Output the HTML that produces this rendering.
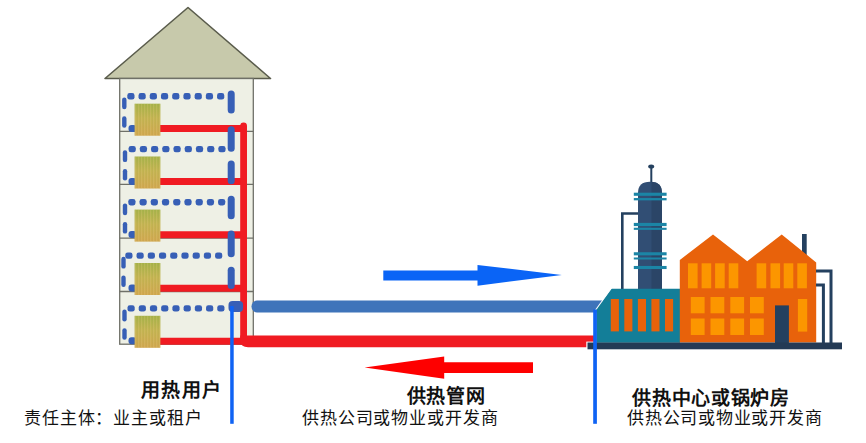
<!DOCTYPE html>
<html lang="zh-CN"><head><meta charset="utf-8"><style>
html,body{margin:0;padding:0;background:#fff;}
body{width:866px;height:443px;position:relative;overflow:hidden;font-family:"Liberation Sans",sans-serif;}
svg{position:absolute;left:0;top:0;}
.t{position:absolute;white-space:nowrap;color:#111;line-height:1;text-spacing-trim:space-all;}
.b{font-weight:bold;}
</style></head><body>
<svg width="866" height="443" viewBox="0 0 866 443">

<defs>
 <linearGradient id="radg" x1="0" y1="0" x2="0" y2="1">
  <stop offset="0" stop-color="#a6b44a"/>
  <stop offset="0.45" stop-color="#c4b552"/>
  <stop offset="1" stop-color="#d2a850"/>
 </linearGradient>
 <pattern id="stripes" width="3" height="10" patternUnits="userSpaceOnUse">
  <rect x="0" y="0" width="1" height="10" fill="#e0c47a" opacity="0.25"/>
  <rect x="2" y="0" width="0.8" height="10" fill="#9a8a40" opacity="0.12"/>
 </pattern>
</defs>
<polygon points="105,78.5 188,7.5 270.5,78.5" fill="#c7c9ab" stroke="#5a5c4c" stroke-width="1.6" stroke-linejoin="round"/>
<rect x="119.7" y="78.5" width="133.6" height="265.7" fill="#eef0e5" stroke="#6f7068" stroke-width="1.3"/>
<line x1="119.7" y1="131.3" x2="253.3" y2="131.3" stroke="#6f7068" stroke-width="1.3"/>
<line x1="119.7" y1="184.3" x2="253.3" y2="184.3" stroke="#6f7068" stroke-width="1.3"/>
<line x1="119.7" y1="238.2" x2="253.3" y2="238.2" stroke="#6f7068" stroke-width="1.3"/>
<line x1="119.7" y1="291.5" x2="253.3" y2="291.5" stroke="#6f7068" stroke-width="1.3"/>
<rect x="127.30" y="93.10" width="7.2" height="6.4" rx="2.3" fill="#375fb6"/>
<rect x="138.52" y="93.10" width="7.2" height="6.4" rx="2.3" fill="#375fb6"/>
<rect x="149.74" y="93.10" width="7.2" height="6.4" rx="2.3" fill="#375fb6"/>
<rect x="160.96" y="93.10" width="7.2" height="6.4" rx="2.3" fill="#375fb6"/>
<rect x="172.18" y="93.10" width="7.2" height="6.4" rx="2.3" fill="#375fb6"/>
<rect x="183.40" y="93.10" width="7.2" height="6.4" rx="2.3" fill="#375fb6"/>
<rect x="194.62" y="93.10" width="7.2" height="6.4" rx="2.3" fill="#375fb6"/>
<rect x="205.84" y="93.10" width="7.2" height="6.4" rx="2.3" fill="#375fb6"/>
<rect x="217.06" y="93.10" width="7.2" height="6.4" rx="2.3" fill="#375fb6"/>
<line x1="124.3" y1="99.70" x2="124.3" y2="107.10" stroke="#375fb6" stroke-width="4.4" stroke-linecap="round"/>
<line x1="124.3" y1="118.40" x2="124.3" y2="125.50" stroke="#375fb6" stroke-width="4.4" stroke-linecap="round"/>
<rect x="128.5" y="125.1" width="8" height="7" rx="3" fill="#375fb6"/>
<line x1="158" y1="128.45" x2="244" y2="128.45" stroke="#f01b22" stroke-width="7.1"/>
<rect x="134.6" y="103.7" width="25.8" height="32" fill="url(#radg)"/>
<rect x="134.6" y="103.7" width="25.8" height="32" fill="url(#stripes)"/>
<rect x="128.60" y="145.90" width="7.2" height="6.4" rx="2.3" fill="#375fb6"/>
<rect x="139.82" y="145.90" width="7.2" height="6.4" rx="2.3" fill="#375fb6"/>
<rect x="151.04" y="145.90" width="7.2" height="6.4" rx="2.3" fill="#375fb6"/>
<rect x="162.26" y="145.90" width="7.2" height="6.4" rx="2.3" fill="#375fb6"/>
<rect x="173.48" y="145.90" width="7.2" height="6.4" rx="2.3" fill="#375fb6"/>
<rect x="184.70" y="145.90" width="7.2" height="6.4" rx="2.3" fill="#375fb6"/>
<rect x="195.92" y="145.90" width="7.2" height="6.4" rx="2.3" fill="#375fb6"/>
<rect x="207.14" y="145.90" width="7.2" height="6.4" rx="2.3" fill="#375fb6"/>
<rect x="218.36" y="145.90" width="7.2" height="6.4" rx="2.3" fill="#375fb6"/>
<line x1="125.0" y1="152.50" x2="125.0" y2="159.90" stroke="#375fb6" stroke-width="4.4" stroke-linecap="round"/>
<line x1="125.0" y1="171.20" x2="125.0" y2="178.30" stroke="#375fb6" stroke-width="4.4" stroke-linecap="round"/>
<rect x="128.5" y="177.9" width="8" height="7" rx="3" fill="#375fb6"/>
<line x1="158" y1="181.44" x2="244" y2="181.44" stroke="#f01b22" stroke-width="7.1"/>
<rect x="134.6" y="156.5" width="25.8" height="32" fill="url(#radg)"/>
<rect x="134.6" y="156.5" width="25.8" height="32" fill="url(#stripes)"/>
<rect x="128.30" y="199.00" width="7.2" height="6.4" rx="2.3" fill="#375fb6"/>
<rect x="139.52" y="199.00" width="7.2" height="6.4" rx="2.3" fill="#375fb6"/>
<rect x="150.74" y="199.00" width="7.2" height="6.4" rx="2.3" fill="#375fb6"/>
<rect x="161.96" y="199.00" width="7.2" height="6.4" rx="2.3" fill="#375fb6"/>
<rect x="173.18" y="199.00" width="7.2" height="6.4" rx="2.3" fill="#375fb6"/>
<rect x="184.40" y="199.00" width="7.2" height="6.4" rx="2.3" fill="#375fb6"/>
<rect x="195.62" y="199.00" width="7.2" height="6.4" rx="2.3" fill="#375fb6"/>
<rect x="206.84" y="199.00" width="7.2" height="6.4" rx="2.3" fill="#375fb6"/>
<rect x="218.06" y="199.00" width="7.2" height="6.4" rx="2.3" fill="#375fb6"/>
<line x1="125.0" y1="205.60" x2="125.0" y2="213.00" stroke="#375fb6" stroke-width="4.4" stroke-linecap="round"/>
<line x1="125.0" y1="224.30" x2="125.0" y2="231.40" stroke="#375fb6" stroke-width="4.4" stroke-linecap="round"/>
<rect x="128.5" y="231.0" width="8" height="7" rx="3" fill="#375fb6"/>
<line x1="158" y1="234.73" x2="244" y2="234.73" stroke="#f01b22" stroke-width="7.1"/>
<rect x="134.6" y="209.6" width="25.8" height="32" fill="url(#radg)"/>
<rect x="134.6" y="209.6" width="25.8" height="32" fill="url(#stripes)"/>
<rect x="125.30" y="252.40" width="7.2" height="6.4" rx="2.3" fill="#375fb6"/>
<rect x="136.52" y="252.40" width="7.2" height="6.4" rx="2.3" fill="#375fb6"/>
<rect x="147.74" y="252.40" width="7.2" height="6.4" rx="2.3" fill="#375fb6"/>
<rect x="158.96" y="252.40" width="7.2" height="6.4" rx="2.3" fill="#375fb6"/>
<rect x="170.18" y="252.40" width="7.2" height="6.4" rx="2.3" fill="#375fb6"/>
<rect x="181.40" y="252.40" width="7.2" height="6.4" rx="2.3" fill="#375fb6"/>
<rect x="192.62" y="252.40" width="7.2" height="6.4" rx="2.3" fill="#375fb6"/>
<rect x="203.84" y="252.40" width="7.2" height="6.4" rx="2.3" fill="#375fb6"/>
<rect x="215.06" y="252.40" width="7.2" height="6.4" rx="2.3" fill="#375fb6"/>
<line x1="123.5" y1="259.00" x2="123.5" y2="266.40" stroke="#375fb6" stroke-width="4.4" stroke-linecap="round"/>
<line x1="123.5" y1="277.70" x2="123.5" y2="284.80" stroke="#375fb6" stroke-width="4.4" stroke-linecap="round"/>
<rect x="128.5" y="284.4" width="8" height="7" rx="3" fill="#375fb6"/>
<line x1="158" y1="288.32" x2="244" y2="288.32" stroke="#f01b22" stroke-width="7.1"/>
<rect x="134.6" y="263.0" width="25.8" height="32" fill="url(#radg)"/>
<rect x="134.6" y="263.0" width="25.8" height="32" fill="url(#stripes)"/>
<rect x="127.50" y="305.20" width="7.2" height="6.4" rx="2.3" fill="#375fb6"/>
<rect x="138.72" y="305.20" width="7.2" height="6.4" rx="2.3" fill="#375fb6"/>
<rect x="149.94" y="305.20" width="7.2" height="6.4" rx="2.3" fill="#375fb6"/>
<rect x="161.16" y="305.20" width="7.2" height="6.4" rx="2.3" fill="#375fb6"/>
<rect x="172.38" y="305.20" width="7.2" height="6.4" rx="2.3" fill="#375fb6"/>
<rect x="183.60" y="305.20" width="7.2" height="6.4" rx="2.3" fill="#375fb6"/>
<rect x="194.82" y="305.20" width="7.2" height="6.4" rx="2.3" fill="#375fb6"/>
<rect x="206.04" y="305.20" width="7.2" height="6.4" rx="2.3" fill="#375fb6"/>
<rect x="217.26" y="305.20" width="7.2" height="6.4" rx="2.3" fill="#375fb6"/>
<line x1="124.5" y1="311.80" x2="124.5" y2="319.20" stroke="#375fb6" stroke-width="4.4" stroke-linecap="round"/>
<line x1="124.5" y1="330.50" x2="124.5" y2="337.60" stroke="#375fb6" stroke-width="4.4" stroke-linecap="round"/>
<rect x="128.5" y="337.2" width="8" height="7" rx="3" fill="#375fb6"/>
<line x1="158" y1="341.31" x2="244" y2="341.31" stroke="#f01b22" stroke-width="7.1"/>
<rect x="134.6" y="315.79999999999995" width="25.8" height="32" fill="url(#radg)"/>
<rect x="134.6" y="315.79999999999995" width="25.8" height="32" fill="url(#stripes)"/>
<line x1="231.2" y1="94.10" x2="231.2" y2="109.90" stroke="#375fb6" stroke-width="7" stroke-linecap="round"/>
<line x1="231.2" y1="129.80" x2="231.2" y2="148.30" stroke="#375fb6" stroke-width="7" stroke-linecap="round"/>
<line x1="231.2" y1="164.00" x2="231.2" y2="180.70" stroke="#375fb6" stroke-width="7" stroke-linecap="round"/>
<line x1="231.2" y1="199.20" x2="231.2" y2="215.70" stroke="#375fb6" stroke-width="7" stroke-linecap="round"/>
<line x1="231.2" y1="234.10" x2="231.2" y2="253.80" stroke="#375fb6" stroke-width="7" stroke-linecap="round"/>
<line x1="231.2" y1="270.30" x2="231.2" y2="285.40" stroke="#375fb6" stroke-width="7" stroke-linecap="round"/>
<path d="M243.6,126 L243.6,341" stroke="#f01b22" stroke-width="6.8" stroke-linecap="round" fill="none"/>
<path d="M240.2,336 L240.2,341 Q241,347.2 248,347.2 L594,347.2 L594,335.5 L240.2,335.5 Z" fill="#f01b22"/>
<path d="M257,300.6 L602,300.6 L602,312.5 L257,312.5 A5.5,5.95 0 0 1 257,300.6 Z" fill="#3f74ba"/>
<rect x="228.5" y="300.9" width="14.6" height="11" rx="4" fill="#375fb6"/>
<rect x="230.2" y="306" width="3.5" height="117.8" fill="#0f63f4"/>
<polygon points="383.3,270.4 477.5,270.4 477.5,265 561.8,274.9 477.5,285.8 477.5,280.6 383.3,280.6" fill="#0a64f6"/>
<polygon points="364.6,367.6 444.2,356.4 444.2,362.3 533,362.3 533,373 444.2,373 444.2,378.8" fill="#fe0000"/>
<path d="M622.3,290 L622.3,213.5 L640,213.5" stroke="#24405f" stroke-width="2.6" fill="none"/>
<line x1="651.3" y1="167" x2="651.3" y2="184" stroke="#24405f" stroke-width="2"/>
<ellipse cx="651.2" cy="166.5" rx="3" ry="2.1" fill="#24405f"/>
<path d="M638,290 L638,193 Q638,181.8 650,181.8 Q662,181.8 662,193 L662,290 Z" fill="#314e74"/>
<path d="M651.5,290 L651.5,181.8 Q662,182.2 662,193 L662,290 Z" fill="#2b4567"/>
<rect x="633.8" y="192.70" width="32.8" height="3.1" fill="#1b85a6"/>
<rect x="633.8" y="198.05" width="32.8" height="2.3" fill="#1b85a6"/>
<rect x="633.8" y="222.90" width="32.8" height="3.2" fill="#1b85a6"/>
<rect x="633.8" y="227.75" width="32.8" height="2.1" fill="#1b85a6"/>
<rect x="633.8" y="252.25" width="32.8" height="3.1" fill="#1b85a6"/>
<rect x="633.8" y="257.50" width="32.8" height="2.0" fill="#1b85a6"/>
<rect x="633.8" y="265.95" width="32.8" height="3.1" fill="#1b85a6"/>
<polygon points="611.2,288.7 680,288.7 680,342.7 596.4,342.7 596.4,309.3" fill="#137e98"/><line x1="611.7" y1="287.7" x2="595.6" y2="310" stroke="#fff" stroke-width="1.1"/>
<rect x="610.8" y="299" width="8.1" height="32.4" fill="#e8620b"/>
<rect x="624.3" y="299" width="8.1" height="32.4" fill="#e8620b"/>
<rect x="637.9" y="299" width="8.1" height="32.4" fill="#e8620b"/>
<rect x="651.4" y="299" width="8.1" height="32.4" fill="#e8620b"/>
<rect x="665" y="299" width="8.1" height="32.4" fill="#e8620b"/>
<rect x="802" y="234" width="4.7" height="30" fill="#24405f"/>
<polygon points="679.8,260 713,234.4 747.2,261.2 781.7,234.4 816.2,262.4 816.2,342.5 679.8,342.5" fill="#e8620b"/>
<rect x="688" y="263.3" width="9.6" height="25" fill="#fc9600"/>
<rect x="701.6" y="263.3" width="9.6" height="25" fill="#fc9600"/>
<rect x="715.1" y="263.3" width="9.6" height="25" fill="#fc9600"/>
<rect x="728.7" y="263.3" width="9.6" height="25" fill="#fc9600"/>
<rect x="756.6" y="263.3" width="9.6" height="25" fill="#fc9600"/>
<rect x="770.5" y="263.3" width="9.6" height="25" fill="#fc9600"/>
<rect x="783.7" y="263.3" width="9.6" height="25" fill="#fc9600"/>
<rect x="797.3" y="263.3" width="9.6" height="25" fill="#fc9600"/>
<rect x="690.8" y="297" width="13.8" height="16.3" fill="#fc9600"/>
<rect x="690.8" y="318.5" width="13.8" height="16.5" fill="#fc9600"/>
<rect x="710.5" y="297" width="13.8" height="16.3" fill="#fc9600"/>
<rect x="710.5" y="318.5" width="13.8" height="16.5" fill="#fc9600"/>
<rect x="730.3" y="297" width="13.8" height="16.3" fill="#fc9600"/>
<rect x="730.3" y="318.5" width="13.8" height="16.5" fill="#fc9600"/>
<rect x="750" y="297" width="13.8" height="16.3" fill="#fc9600"/>
<rect x="750" y="318.5" width="13.8" height="16.5" fill="#fc9600"/>
<rect x="797.9" y="299" width="9.3" height="32.6" fill="#fc9600"/>
<rect x="775" y="305.4" width="13.9" height="38" fill="#24405f"/>
<path d="M816,271 L831,271 L831,343" stroke="#24405f" stroke-width="3" fill="none"/>
<path d="M816,285 L823.4,285 L823.4,343" stroke="#24405f" stroke-width="3" fill="none"/>
<rect x="586.3" y="341.6" width="10" height="8.6" fill="#ffffff"/>
<rect x="587.5" y="342.5" width="254.5" height="6.8" fill="#233a55"/>
<rect x="593.2" y="309.5" width="3.7" height="114.3" fill="#0f63f4"/>
</svg>
<div class="t b" style="left:141px;top:381px;font-size:19px;letter-spacing:1.4px;">用热用户</div>
<div class="t" style="left:24px;top:409.5px;font-size:17px;letter-spacing:0.85px;">责任主体：业主或租户</div>
<div class="t b" style="left:406.5px;top:386.5px;font-size:19px;letter-spacing:0.67px;">供热管网</div>
<div class="t" style="left:302px;top:409.5px;font-size:17px;letter-spacing:0.87px;">供热公司或物业或开发商</div>
<div class="t b" style="left:632.3px;top:389px;font-size:19px;letter-spacing:0.7px;">供热中心或锅炉房</div>
<div class="t" style="left:627px;top:409.5px;font-size:17px;letter-spacing:0.75px;">供热公司或物业或开发商</div>
</body></html>
